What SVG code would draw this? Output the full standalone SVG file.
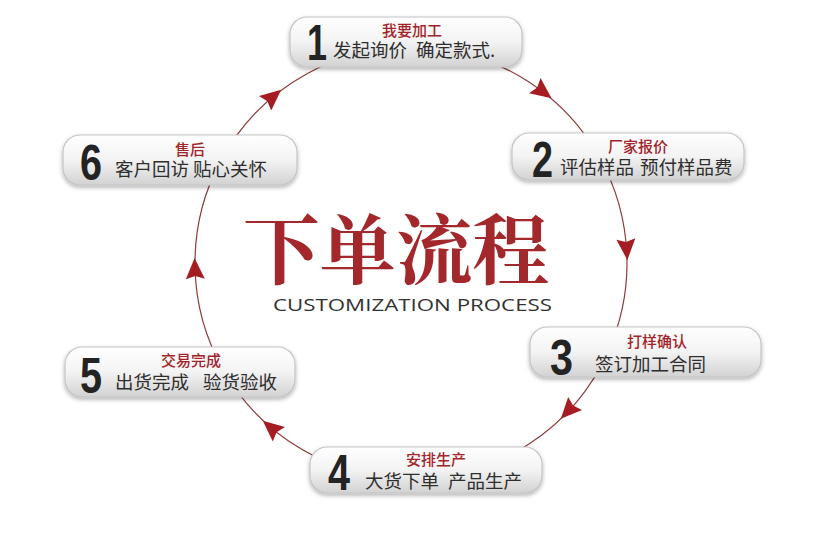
<svg xmlns="http://www.w3.org/2000/svg" xmlns:xlink="http://www.w3.org/1999/xlink" width="838" height="538" viewBox="0 0 838 538">
<defs>
<linearGradient id="pill" x1="0" y1="0" x2="0" y2="1">
<stop offset="0" stop-color="#ffffff"/>
<stop offset="0.5" stop-color="#f3f3f3"/>
<stop offset="1" stop-color="#d2d2d2"/>
</linearGradient>
<filter id="sh" x="-10%" y="-20%" width="120%" height="150%">
<feDropShadow dx="0" dy="2" stdDeviation="2" flood-color="#000" flood-opacity="0.3"/>
</filter>
<polygon id="arr" points="12,0 -9,-9.5 -6,0 -9,9.5"/>
</defs>
<style>
.ring{fill:none;stroke:#8e3b3b;stroke-width:1.2}
.ah{fill:#a51c22}
.box{fill:url(#pill);stroke:#c4c4c4;stroke-width:1.2;filter:url(#sh)}
.num{font-family:"Liberation Sans",Arial,sans-serif;font-weight:bold;font-size:50px;fill:#232323}
.tt{font-family:"Noto Sans CJK SC",sans-serif;font-size:15px;font-weight:500;fill:#a3242a;text-anchor:middle}
.st{font-family:"Noto Sans CJK SC",sans-serif;font-size:18.5px;fill:#2e2e2e}
.big{font-family:"Noto Serif CJK SC","Noto Sans CJK SC",serif;font-size:76px;font-weight:700;fill:#a3282c}
.en{font-family:"Open Sans","Liberation Sans",sans-serif;font-size:17px;fill:#333}
</style>
<rect width="838" height="538" fill="#ffffff"/>
<g id="connectors">
<path class="ring" d="M429.8 47.8 A216 216 0 0 1 599.9 158.3"/>
<path class="ring" d="M599.9 158.3 A216 216 0 0 1 608.3 350.9"/>
<path class="ring" d="M608.3 350.9 A216 216 0 0 1 411 479"/>
<path class="ring" d="M411 479 A216 216 0 0 1 223.9 371"/>
<path class="ring" d="M223.9 371 A216 216 0 0 1 220.3 161.6"/>
<path class="ring" d="M220.3 161.6 A216 216 0 0 1 429.8 47.8"/>
<use href="#arr" class="ah" transform="translate(542 91) rotate(37)"/>
<use href="#arr" class="ah" transform="translate(626.5 248) rotate(86)"/>
<use href="#arr" class="ah" transform="translate(569 410) rotate(133)"/>
<use href="#arr" class="ah" transform="translate(272 428.5) rotate(220)"/>
<use href="#arr" class="ah" transform="translate(195 270) rotate(268)"/>
<use href="#arr" class="ah" transform="translate(272 97.5) rotate(320)"/>
</g>
<g id="title">
<text class="big" x="243" y="278" textLength="306" lengthAdjust="spacingAndGlyphs">下单流程</text>
<text class="en" x="273" y="311" textLength="279" lengthAdjust="spacingAndGlyphs">CUSTOMIZATION PROCESS</text>
</g>
<g id="node1">
<rect class="box" x="290" y="17" width="232" height="50" rx="17"/>
<text class="num" x="307" y="60" textLength="20" lengthAdjust="spacingAndGlyphs">1</text>
<text class="tt" x="412" y="36">我要加工</text>
<text class="st" y="57"><tspan x="333">发起询价</tspan><tspan x="416">确定款式.</tspan></text>
</g>
<g id="node2">
<rect class="box" x="512" y="133" width="232" height="47" rx="17"/>
<text class="num" x="532" y="177" textLength="21" lengthAdjust="spacingAndGlyphs">2</text>
<text class="tt" x="638" y="152">厂家报价</text>
<text class="st" y="174"><tspan x="560">评估样品</tspan><tspan x="640">预付样品费</tspan></text>
</g>
<g id="node3">
<rect class="box" x="530" y="327" width="231" height="50" rx="17"/>
<text class="num" x="550" y="375" textLength="23" lengthAdjust="spacingAndGlyphs">3</text>
<text class="tt" x="657" y="347">打样确认</text>
<text class="st" x="595" y="371">签订加工合同</text>
</g>
<g id="node4">
<rect class="box" x="310" y="447" width="232" height="46" rx="17"/>
<text class="num" x="328" y="490" textLength="22" lengthAdjust="spacingAndGlyphs">4</text>
<text class="tt" x="436" y="465">安排生产</text>
<text class="st" y="488"><tspan x="365">大货下单</tspan><tspan x="448">产品生产</tspan></text>
</g>
<g id="node5">
<rect class="box" x="65" y="347" width="230" height="50" rx="17"/>
<text class="num" x="80" y="393" textLength="22" lengthAdjust="spacingAndGlyphs">5</text>
<text class="tt" x="191" y="366">交易完成</text>
<text class="st" y="389"><tspan x="115">出货完成</tspan><tspan x="203">验货验收</tspan></text>
</g>
<g id="node6">
<rect class="box" x="63" y="135" width="234" height="50" rx="17"/>
<text class="num" x="80" y="180" textLength="22" lengthAdjust="spacingAndGlyphs">6</text>
<text class="tt" x="190" y="155">售后</text>
<text class="st" y="176"><tspan x="115">客户回访</tspan><tspan x="193">贴心关怀</tspan></text>
</g>
</svg>
